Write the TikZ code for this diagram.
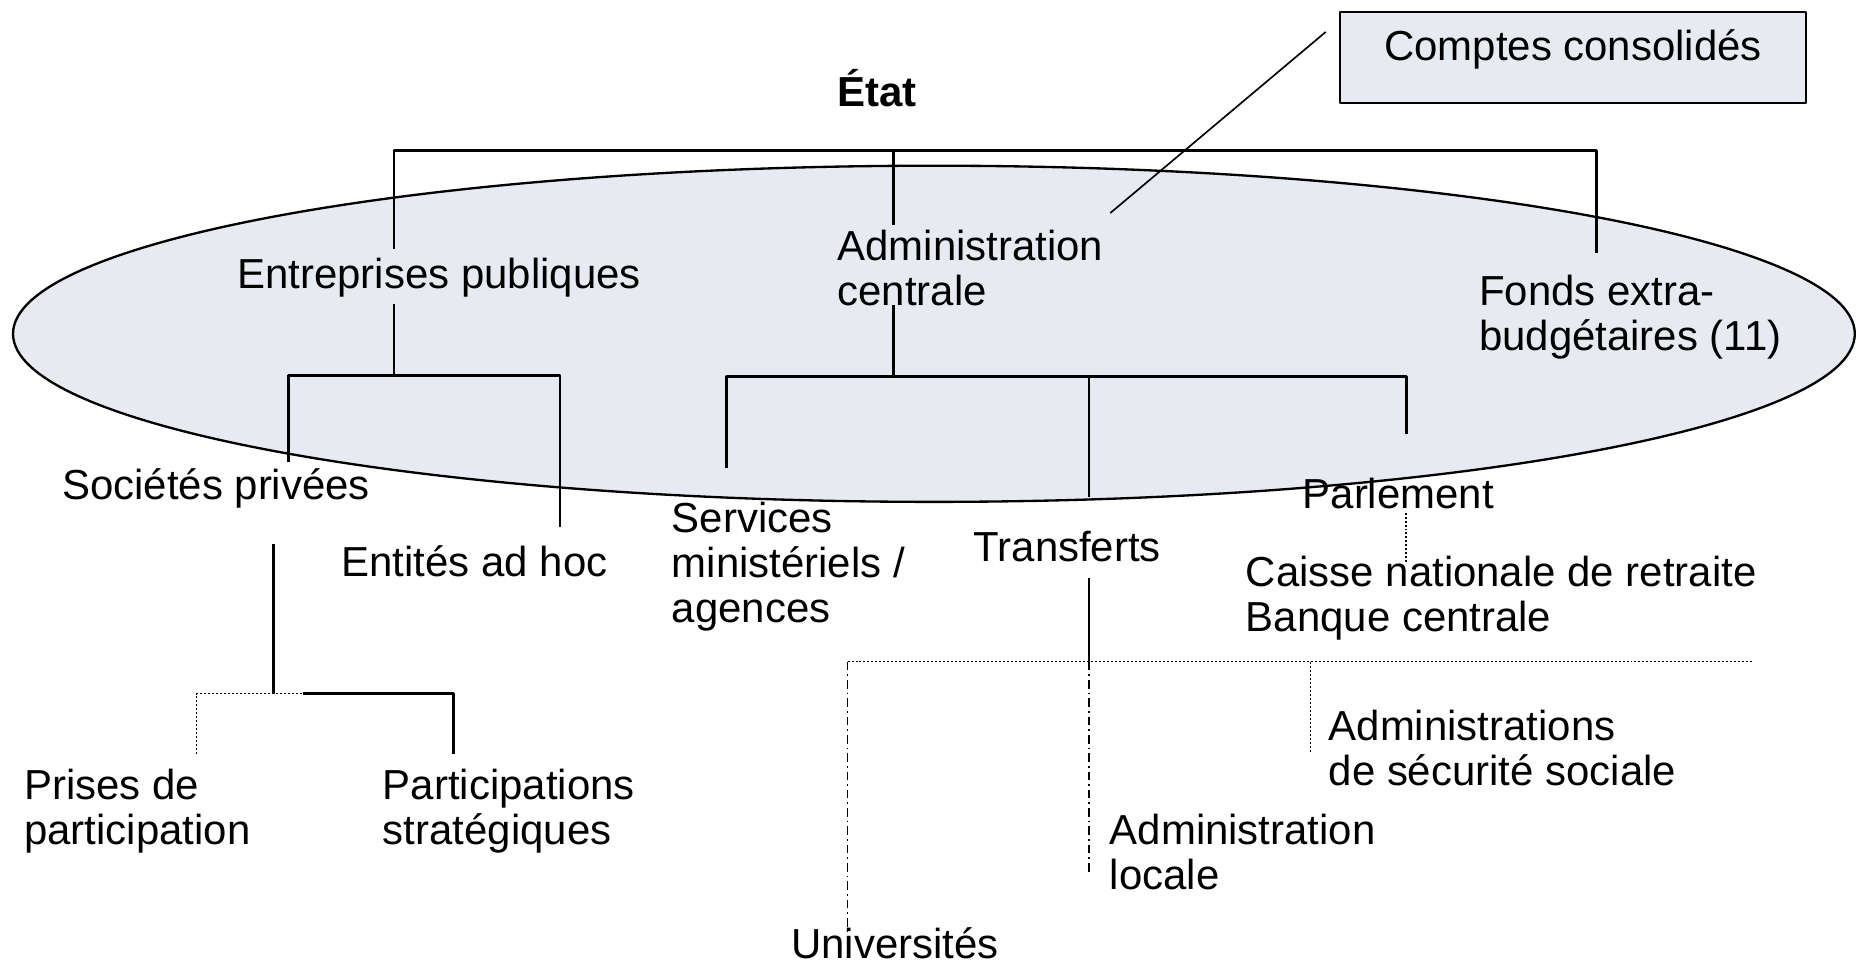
\documentclass[tikz,border=0pt]{standalone}
\usepackage{fontspec}
\setmainfont{Liberation Sans}
\definecolor{fondgris}{RGB}{231,234,241}
\begin{document}
\begin{tikzpicture}[x=0.0125cm,y=-0.0125cm,line join=round,
  txt/.style={inner sep=0pt,font=\fontsize{12.6}{13.5}\selectfont,align=left},
  trait/.style={line width=0.8pt},
  pointille/.style={line width=0.5pt,dash pattern=on 0.6pt off 0.6pt},
  mixte/.style={line width=0.5pt,dash pattern=on 2.6pt off 1.2pt on 0.5pt off 1.2pt}]
\useasboundingbox (0,0) rectangle (1568,816);
% le fond
\draw[fill=fondgris,line width=0.7pt] (789,282) ellipse [x radius=778,y radius=142];
\draw[fill=fondgris,line width=0.6pt] (1132,10) rectangle (1526,87);
% textes
\node[txt,anchor=base,font=\fontsize{12.6}{13.5}\selectfont\bfseries] (etat) at (741,90) {État};
\node[txt,anchor=base] (cc) at (1329,51) {Comptes consolidés};
\node[txt,anchor=base west] (entp) at (200,244) {Entreprises publiques};
\node[txt,anchor=north west] (admc) at (707,194) {Administration\\centrale};
\node[txt,anchor=north west] (fonds) at (1249,232) {Fonds extra-\\budgétaires (11)};
\node[txt,anchor=base west] (socp) at (52,422) {Sociétés privées};
\node[txt,anchor=base west] (adhoc) at (288,487) {Entités ad hoc};
\node[txt,anchor=north west] (serv) at (567,424) {Services\\ministériels /\\agences};
\node[txt,anchor=base west] (transf) at (822,474) {Transferts};
\node[txt,anchor=base west] (parl) at (1100,430) {Parlement};
\node[txt,anchor=north west] (caisse) at (1052,469) {Caisse nationale de retraite\\Banque centrale};
\node[txt,anchor=north west] (prises) at (20,649) {Prises de\\participation};
\node[txt,anchor=north west] (strat) at (323,649) {Participations\\stratégiques};
\node[txt,anchor=north west] (secu) at (1122,599) {Administrations\\de sécurité sociale};
\node[txt,anchor=north west] (loc) at (937,687) {Administration\\locale};
\node[txt,anchor=base west] (univ) at (668,810) {Universités};
% points de jonction
\coordinate (hG) at (333,127); \coordinate (hM) at (755,127); \coordinate (hD) at (1349,127);
\coordinate (eG) at (244,317); \coordinate (eM) at (333,317); \coordinate (eD) at (473,317);
\coordinate (aG) at (614,318); \coordinate (aM) at (755,318); \coordinate (aT) at (920,318); \coordinate (aD) at (1188,318);
\coordinate (sG) at (166,586); \coordinate (sM) at (231,586); \coordinate (sC) at (256,586); \coordinate (sD) at (383,586);
\coordinate (tG) at (716,559); \coordinate (tM) at (920,559); \coordinate (tS) at (1107,559); \coordinate (tD) at (1482,559);
% niveau Etat
\draw[trait] (333,210) -- (hG) -- (hD) -- (1349,214);
\draw[trait] (hM) -- (755,190);
% entreprises publiques
\draw[trait] (333,257) -- (eM);
\draw[trait] (244,390) -- (eG) -- (eD) -- (473,445);
\draw[trait] (231,460) -- (sM);
\draw[pointille] (166,637) -- (sG) -- (sC);
\draw[trait] (sC) -- (sD) -- (383,637);
% administration centrale
\draw[trait] (755,258) -- (aM);
\draw[trait] (614,395) -- (aG) -- (aD) -- (1188,367);
\draw[trait] (aT) -- (920,420);
\draw[pointille] (1188,433) -- (1188,476);
% transferts
\draw[trait] (920,488) -- (tM);
\draw[pointille] (tG) -- (tD);
\draw[mixte] (tG) -- (716,787);
\draw[mixte] (tM) -- (920,738);
\draw[pointille] (tS) -- (1107,636);
% renvoi
\draw[line width=0.5pt] (1120,27) -- (938,180);
\end{tikzpicture}
\end{document}
